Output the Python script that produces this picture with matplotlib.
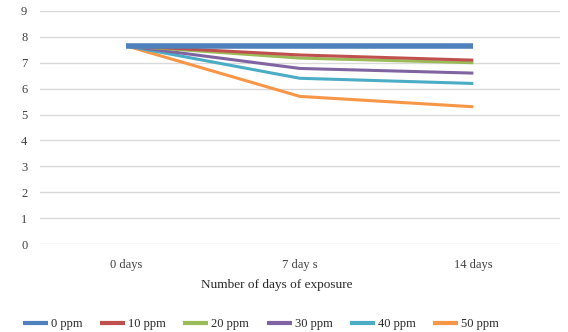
import matplotlib
matplotlib.use("Agg")
import matplotlib.pyplot as plt

days = ["0 days", "7 day s", "14 days"]
series = ["0 ppm", "10 ppm", "20 ppm", "30 ppm", "40 ppm", "50 ppm"]
ph_0 = [7.65, 7.65, 7.65]
ph_10 = [7.65, 7.3, 7.1]
ph_20 = [7.65, 7.18, 7.0]
ph_30 = [7.65, 6.78, 6.6]
ph_40 = [7.65, 6.4, 6.2]
ph_50 = [7.65, 5.7, 5.3]
colors = ["#4F81BD", "#C0504D", "#9BBB59", "#8064A2", "#4BACC6", "#F79646"]

plt.rcParams["font.family"] = ["Liberation Serif", "DejaVu Serif"]

fig = plt.figure(figsize=(5.68, 3.32), dpi=100)
ax = fig.add_axes([0.070, 0.265, 0.916, 0.702])

x = range(len(days))
for i, (name, vals) in enumerate(zip(series, [ph_0, ph_10, ph_20, ph_30, ph_40, ph_50])):
    lw = 4 if i == 0 else 2.2
    ax.plot(x, vals, color=colors[i], lw=lw, label=name, solid_capstyle="butt", zorder=3 + (6 - i))

ax.set_xlim(-0.5, 2.5)
ax.set_ylim(0, 9)
ax.set_yticks(range(10))
ax.set_xticks(list(x))
ax.set_xticklabels(days)
ax.grid(axis="y", color="#D9D9D9", lw=1)
ax.set_axisbelow(True)
for s in ax.spines.values():
    s.set_visible(False)
ax.tick_params(length=0, labelsize=9, colors="#404040")
ax.tick_params(axis="y", pad=9)
ax.tick_params(axis="x", pad=11)
ax.set_xlabel("Number of days of exposure", fontsize=9.5, color="#262626", labelpad=8)
ax.xaxis.set_label_coords(0.456, -0.15)

leg = ax.legend(loc="center", bbox_to_anchor=(0.425, -0.345), ncol=6, frameon=False,
                fontsize=9, handlelength=2.0, handletextpad=0.25, columnspacing=1.4,
                labelcolor="#262626")
for h in leg.get_lines():
    h.set_linewidth(3)

fig.savefig("out.png", dpi=100)
